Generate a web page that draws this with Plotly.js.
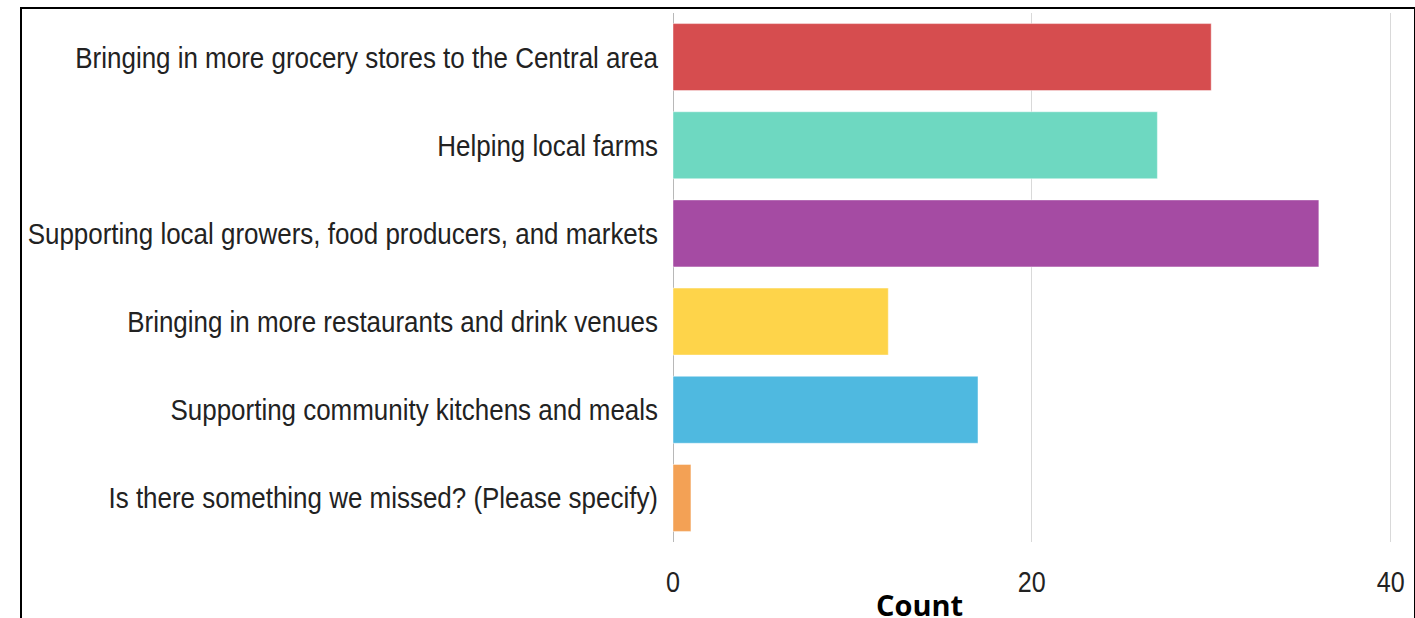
<!DOCTYPE html>
<html>
<head>
<meta charset="utf-8">
<script src="https://cdn.plot.ly/plotly-3.0.1.min.js"></script>
<style>
  html, body { margin: 0; padding: 0; background: #fff; }
  #wrap { position: relative; width: 1415px; height: 618px; overflow: hidden; }
  #chart { position: absolute; left: 0; top: 0; width: 1415px; height: 618px; }
  #frame { position: absolute; left: 20px; top: 7px; width: 1392px; height: 640px;
           border-left: 2px solid #000; border-top: 2px solid #000; border-right: 2px solid #000;
           pointer-events: none; }
</style>
</head>
<body>
<div id="wrap">
  <div id="chart"></div>
  <div id="frame"></div>
</div>
<script>
const categories = [
  "Bringing in more grocery stores to the Central area",
  "Helping local farms",
  "Supporting local growers, food producers, and markets",
  "Bringing in more restaurants and drink venues",
  "Supporting community kitchens and meals",
  "Is there something we missed? (Please specify)"
];
const counts = [30, 27, 36, 12, 17, 1];
const barColors = ["#D64D4F", "#6ED8C1", "#A54BA3", "#FED44A", "#4FB9E0", "#F3A155"];
const xTickVals = [0, 20, 40];
const xTickText = ["0", "20", "40"];
const xTitle = "Count";

const trace = {
  type: "bar",
  orientation: "h",
  y: categories,
  x: counts,
  marker: { color: barColors, line: { color: "rgba(255,255,255,0.45)", width: 1 } },
  hoverinfo: "x+y"
};

const layout = {
  width: 1415,
  height: 618,
  margin: { l: 673, r: 19, t: 13, b: 76 },
  paper_bgcolor: "#ffffff",
  plot_bgcolor: "#ffffff",
  showlegend: false,
  bargap: 0.24,
  font: { family: "Liberation Sans, Arial, sans-serif", size: 30, color: "#222222" },
  xaxis: {
    range: [0, 40.3],
    tickvals: xTickVals,
    ticktext: xTickText,
    showgrid: true,
    gridcolor: "#d9d9d9",
    gridwidth: 1,
    zeroline: true,
    zerolinecolor: "#b8b8b8",
    zerolinewidth: 1,
    showline: false,
    ticks: "",
    ticklabelstandoff: 20,
    tickfont: { size: 29 }
  },
  yaxis: {
    autorange: "reversed",
    ticks: "",
    ticklabelstandoff: 14,
    showline: false,
    showgrid: false,
    tickfont: { size: 30 }
  },
  annotations: [{
    text: "<b>" + xTitle + "</b>",
    xref: "paper", yref: "paper",
    x: (919 - 673) / (1396 - 673), y: 0,
    yshift: -62,
    xanchor: "center", yanchor: "middle",
    showarrow: false,
    font: { family: "Open Sans, sans-serif", size: 29, color: "#000000" }
  }]
};

const gd = document.getElementById("chart");
Plotly.newPlot(gd, [trace], layout, { displayModeBar: false, staticPlot: true }).then(function () {
  // condense tick label glyphs to mimic a narrow typeface
  gd.querySelectorAll(".ytick text, .xtick text").forEach(function (t) {
    const w = t.getComputedTextLength();
    t.setAttribute("textLength", (w * 0.865).toFixed(1));
    t.setAttribute("lengthAdjust", "spacingAndGlyphs");
  });
});
</script>
</body>
</html>
